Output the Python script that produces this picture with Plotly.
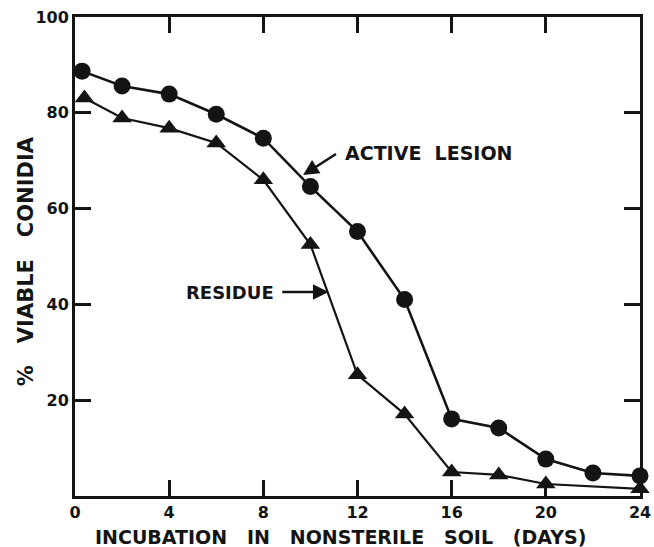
import plotly.graph_objects as go

# Active lesion (circles)
lesion_days = [0.3, 2, 4, 6, 8, 10, 12, 14, 16, 18, 20, 22, 24]
lesion_viable = [88.7, 85.6, 83.9, 79.7, 74.7, 64.6, 55.2, 41.0, 16.1, 14.2, 7.7, 4.8, 4.2]

# Residue (triangles)
residue_days = [0.4, 2, 4, 6, 8, 10, 12, 14, 16, 18, 20, 24]
residue_viable = [83.1, 78.9, 76.8, 73.7, 66.0, 52.5, 25.3, 17.1, 5.0, 4.4, 2.5, 1.5]

x_ticks = [0, 4, 8, 12, 16, 20, 24]
y_ticks = [20, 40, 60, 80, 100]

INK = "#141414"
FONT = "DejaVu Sans"
NB = "\u00a0"

fig = go.Figure()
fig.add_trace(go.Scatter(
    x=lesion_days, y=lesion_viable, mode="lines+markers",
    line=dict(color=INK, width=2.6),
    marker=dict(symbol="circle", size=17, color=INK),
    cliponaxis=False, showlegend=False))
fig.add_trace(go.Scatter(
    x=residue_days, y=residue_viable, mode="lines+markers",
    line=dict(color=INK, width=2.2),
    marker=dict(symbol="triangle-up", size=17, color=INK),
    cliponaxis=False, showlegend=False))

fig.add_annotation(x=9.69, y=67.0, ax=11.15, ay=71.6, axref="x", ayref="y",
                   xref="x", yref="y", text="", showarrow=True,
                   arrowhead=2, arrowsize=1.3, arrowwidth=2.4, arrowcolor=INK)
fig.add_annotation(x=11.40, y=71.6, xref="x", yref="y", text="ACTIVE" + NB * 2 + "LESION",
                   showarrow=False, xanchor="left", yanchor="middle",
                   font=dict(family=FONT, size=19, color=INK, weight="bold"))
fig.add_annotation(x=10.77, y=42.6, ax=8.74, ay=42.6, axref="x", ayref="y",
                   xref="x", yref="y", text="", showarrow=True,
                   arrowhead=2, arrowsize=1.3, arrowwidth=2.4, arrowcolor=INK)
fig.add_annotation(x=8.55, y=42.4, xref="x", yref="y", text="RESIDUE",
                   showarrow=False, xanchor="right", yanchor="middle",
                   font=dict(family=FONT, size=18, color=INK, weight="bold"))

axis_common = dict(showline=True, linewidth=3, linecolor=INK, mirror="ticks",
                   ticks="inside", ticklen=16, tickwidth=3, tickcolor=INK,
                   showgrid=False, zeroline=False, ticklabeloverflow="allow",
                   tickfont=dict(family=FONT, size=16, color=INK, weight="bold"))

x_title = (NB * 3).join(["INCUBATION", "IN", "NONSTERILE", "SOIL", "(DAYS)"])
y_title = (NB * 3).join(["%", "VIABLE", "CONIDIA"])

fig.update_xaxes(range=[0, 24], tickvals=x_ticks, ticktext=[str(v) for v in x_ticks],
                 **axis_common)
fig.update_yaxes(range=[0, 100], tickvals=y_ticks, ticktext=[str(v) for v in y_ticks],
                 **axis_common)

# axis titles placed as in the original figure
fig.add_annotation(x=0.47, y=-0.086, xref="paper", yref="paper", text=x_title,
                   showarrow=False, xanchor="center", yanchor="middle",
                   font=dict(family=FONT, size=19, color=INK, weight="bold"))
fig.add_annotation(x=-0.087, y=0.49, xref="paper", yref="paper", text=y_title,
                   textangle=-90, showarrow=False, xanchor="center", yanchor="middle",
                   font=dict(family=FONT, size=21, color=INK, weight="bold"))

fig.update_layout(width=654, height=547, margin=dict(l=75, r=3, t=17, b=51),
                  plot_bgcolor="white", paper_bgcolor="white")

# remove the default page margin so the figure fills the window exactly
fig.write_html("out.html", config={"displayModeBar": False},
               post_script="document.body.style.margin='0';document.body.style.overflow='hidden';")
